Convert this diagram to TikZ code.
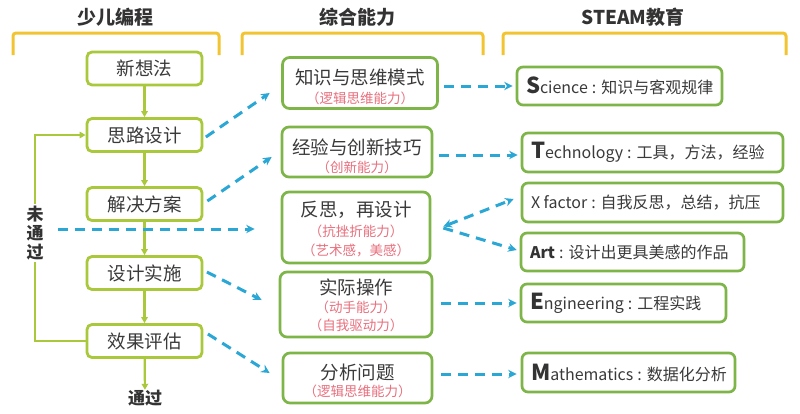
\documentclass[tikz,border=0pt]{standalone}
\usepackage{fontspec}
\setmainfont{Noto Sans CJK SC}
\usetikzlibrary{arrows.meta,calc}
\definecolor{lgreen}{HTML}{A9C83C}
\definecolor{dgreen}{HTML}{7DB548}
\definecolor{byellow}{HTML}{F3C431}
\definecolor{dcyan}{HTML}{2AA7D5}
\definecolor{tgray}{HTML}{3A3A3A}
\definecolor{hgray}{HTML}{333333}
\definecolor{subred}{HTML}{E8707E}
\begin{document}
\begin{tikzpicture}[x=1pt,y=-1pt,
  lbox/.style={draw=lgreen, line width=2.8pt, rounded corners=5pt, minimum width=115pt, minimum height=33pt, inner sep=0pt, text=tgray, font=\fontsize{18.5}{20}\selectfont},
  mbox/.style={draw=dgreen, line width=2.7pt, rounded corners=7pt, inner sep=0pt},
  mtext/.style={inner sep=0pt, text=tgray, font=\fontsize{18.5}{20}\selectfont},
  stext/.style={inner sep=0pt, text=subred, font=\fontsize{13.5}{15}\selectfont},
  rbox/.style={draw=dgreen, line width=2.7pt, rounded corners=6pt, inner xsep=9pt, inner ysep=0pt, text=tgray, font=\fontsize{16}{18}\selectfont},
  bracket/.style={draw=byellow, line width=3pt, rounded corners=3pt},
  garrow/.style={draw=lgreen, line width=2.2pt, -{Triangle[length=6pt,width=6.5pt]}},
  darrow/.style={draw=dcyan, line width=3pt, dash pattern=on 10pt off 7pt, -{Stealth[length=8.5pt,width=8.5pt]}},
  head/.style={inner sep=0pt, text=hgray, font=\fontsize{19}{20}\selectfont\bfseries}
]
\useasboundingbox (0,0) rectangle (800,413);
\fill[white] (0,0) rectangle (800,413);

% headers
\node[head] (h1) at (115,17) {少儿编程};
\node[head] (h2) at (357,17) {综合能力};
\node[head] (h3) at (633,17) {STEAM教育};

% brackets
\draw[bracket] (13,55) -- (13,33) -- (219,33) -- (219,55);
\draw[bracket] (242,55) -- (242,33) -- (483,33) -- (483,55);
\draw[bracket] (503,55) -- (503,33) -- (786,33) -- (786,55);

% left column
\node[lbox] (xsx)  at (144.5,68.5) {新想法};
\node[lbox] (slsj) at (144.5,135)  {思路设计};
\node[lbox] (jjfa) at (144.5,204)  {解决方案};
\node[lbox] (sjss) at (144.5,273)  {设计实施};
\node[lbox] (xgpg) at (144.5,341)  {效果评估};
\node[head, font=\fontsize{17}{18}\selectfont\bfseries] (tg) at (145,398) {通过};

\draw[garrow] (xsx) -- (slsj);
\draw[garrow] (slsj) -- (jjfa);
\draw[garrow] (jjfa) -- (sjss);
\draw[garrow] (sjss) -- (xgpg);
\draw[garrow] (xgpg) -- (tg);
\draw[garrow] (xgpg.west) -- ++(-51,0) |- (slsj.west);
\node[head, fill=white, align=center, inner xsep=1pt, inner ysep=2pt, font=\fontsize{17}{19}\selectfont\bfseries] (wtg) at (35,233) {未\\通\\过};

% middle column
\node[mbox, minimum width=155pt, minimum height=51pt] (km) at (360,83) {};
\node[mtext] (kmt) at (360,77) {知识与思维模式};
\node[stext] (kms) at (360,98) {（逻辑思维能力）};

\node[mbox, minimum width=150pt, minimum height=50pt] (jy) at (357,152) {};
\node[mtext] (jyt) at (357,147) {经验与创新技巧};
\node[stext] (jys) at (357,167) {（创新能力）};

\node[mbox, minimum width=148pt, minimum height=71pt] (fs) at (356,227.5) {};
\node[mtext] (fst) at (356,210) {反思，再设计};
\node[stext] (fss1) at (356,231) {（抗挫折能力）};
\node[stext] (fss2) at (356,250) {（艺术感，美感）};

\node[mbox, minimum width=152pt, minimum height=65pt] (sj) at (356,304.5) {};
\node[mtext] (sjt) at (356,287) {实际操作};
\node[stext] (sjs1) at (356,307) {（动手能力）};
\node[stext] (sjs2) at (356,325) {（自我驱动力）};

\node[mbox, minimum width=149pt, minimum height=50pt] (fx) at (357.5,378) {};
\node[mtext] (fxt) at (357.5,372) {分析问题};
\node[stext] (fxs) at (357.5,391) {（逻辑思维能力）};

% right column
\newcommand{\capl}[1]{{\fontsize{22}{22}\selectfont\bfseries\color{hgray}#1}}
\newcommand{\colo}{\hspace{4pt}:\hspace{5pt}}
\node[rbox, minimum height=38pt] (sci) at (619.5,86) {\makebox[187pt][l]{\capl{S}cience\colo 知识与客观规律}};
\node[rbox, minimum height=39pt] (tech) at (652.5,152.5) {\makebox[243pt][l]{\capl{T}echnology\colo 工具，方法，经验}};
\node[rbox, minimum height=39pt] (xf) at (652.5,202.5) {\makebox[243pt][l]{X factor\colo 自我反思，总结，抗压}};
\node[rbox, minimum height=38pt] (art) at (632.5,252) {\makebox[205pt][l]{{\bfseries\color{hgray}Art}\colo 设计出更具美感的作品}};
\node[rbox, minimum height=38pt] (eng) at (623.5,303) {\makebox[187pt][l]{\capl{E}ngineering\colo 工程实践}};
\node[rbox, minimum height=39pt] (math) at (628.5,372.5) {\makebox[195pt][l]{\capl{M}athematics\colo 数据化分析}};

% dashed connectors
\coordinate (hstart) at (58,229);
\draw[darrow] ($(slsj.east)+(2.5,2)$) -- ($(km.west)+(-11.5,10)$);
\draw[darrow] ($(jjfa.east)+(4,-3)$) -- ($(jy.west)+(-9,5)$);
\draw[darrow] (hstart) -- ($(fs.west)+(-26,1.5)$);
\draw[darrow] ($(sjss.east)+(3.5,-1)$) -- ($(sj.west)+(-17,-4.5)$);
\draw[darrow] ($(xgpg.east)+(4.5,-7)$) -- ($(fx.west)+(-12,-5)$);

\draw[darrow] ($(km.east)+(5.5,3)$) -- ($(sci.west)+(-3,0)$);
\draw[darrow] ($(jy.east)+(6,3)$) -- ($(tech.west)+(-3,2.5)$);
\draw[darrow, {Stealth[length=8.5pt,width=8.5pt]}-{Stealth[length=8.5pt,width=8.5pt]}] ($(fs.east)+(12,-1)$) -- ($(xf.west)+(-7,-3.5)$);
\draw[darrow] ($(fs.east)+(12,0.5)$) -- ($(art.west)+(-3,-2)$);
\draw[darrow] ($(sj.east)+(8,-1.5)$) -- ($(eng.west)+(-3,0)$);
\draw[darrow] ($(fx.east)+(8,-4)$) -- ($(math.west)+(-4,1.5)$);
\end{tikzpicture}
\end{document}
